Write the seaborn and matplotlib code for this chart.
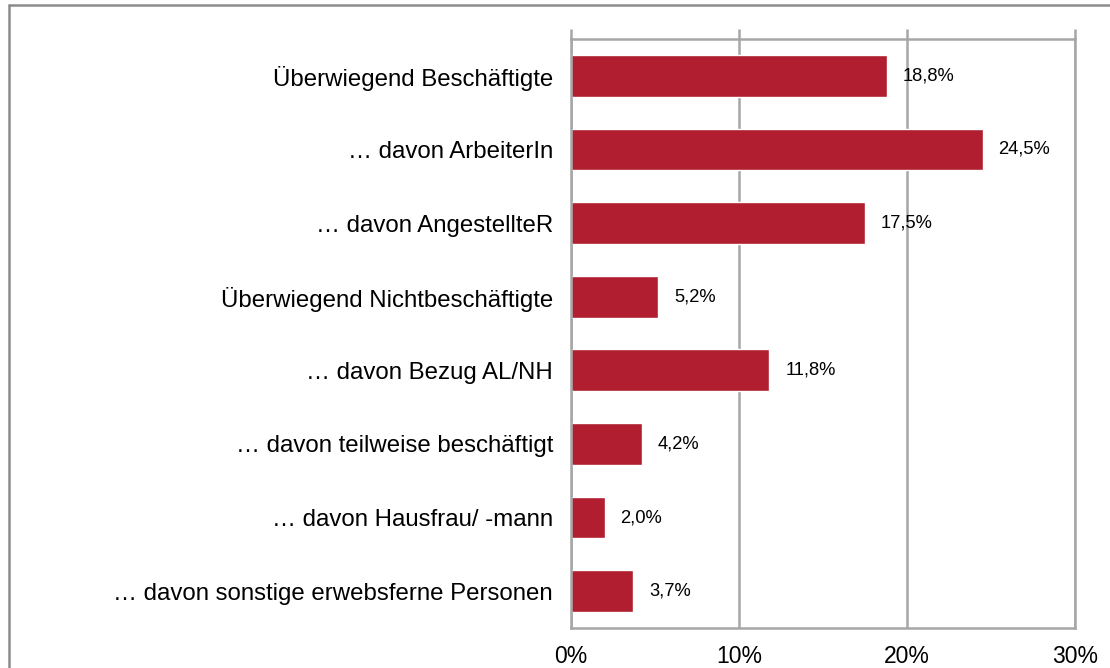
import matplotlib.pyplot as plt
from matplotlib.lines import Line2D
import seaborn as sns
import numpy as np

categories = ['Überwiegend Beschäftigte', '… davon ArbeiterIn', '… davon AngestellteR',
              'Überwiegend Nichtbeschäftigte', '… davon Bezug AL/NH',
              '… davon teilweise beschäftigt', '… davon Hausfrau/ -mann',
              '… davon sonstige erwebsferne Personen']
values = [18.8, 24.5, 17.5, 5.2, 11.8, 4.2, 2.0, 3.7]
labels = ['18,8%', '24,5%', '17,5%', '5,2%', '11,8%', '4,2%', '2,0%', '3,7%']
xticks = [0, 10, 20, 30]

sns.set_style('white')
plt.rcParams['font.family'] = ['Liberation Sans', 'DejaVu Sans']
plt.rcParams['text.color'] = 'black'
grey = '#a6a6a6'

fig = plt.figure(figsize=(11.1, 6.68), dpi=100)
ax = fig.add_axes([0.5144, 0.0599, 0.4541, 0.8817])

sns.barplot(x=values, y=categories, orient='h', color='#b01e2f', width=0.567,
            saturation=1, ax=ax, zorder=3)

ax.set_xlim(0, 30)
ax.set_ylim(7.5, -0.5)
ax.set_xticks(xticks)
ax.set_xticklabels(['{}%'.format(t) for t in xticks], fontsize=16.5, color='black')
ax.grid(axis='x', color=grey, linewidth=1.8, zorder=0)
ax.set_xlabel('')
ax.set_ylabel('')
for s in ax.spines.values():
    s.set_color(grey)
    s.set_linewidth(1.8)
ax.spines['left'].set_zorder(4)

# tick marks between categories on the left, small marks above at the top
ax.set_yticks(np.arange(-0.5, 8, 1), minor=True)
ax.tick_params(axis='y', which='major', length=0, labelsize=17.3, pad=13,
               labelcolor='black')
ax.tick_params(axis='y', which='minor', length=8, width=1.8, color=grey, direction='out')
ax.tick_params(axis='x', which='major', bottom=False, top=True, length=7, width=1.8,
               color=grey, direction='out', labelbottom=True, pad=5)

for i, (v, lab) in enumerate(zip(values, labels)):
    ax.annotate(lab, (v, i), xytext=(11.5, 0), textcoords='offset points',
                va='center', ha='left', fontsize=13.2, color='black')

# outer chart frame (only left and top edges are visible)
fig.add_artist(Line2D([9 / 1110, 9 / 1110], [0, 1 - 5 / 668], color='#8c8c8c',
                      linewidth=1.8, transform=fig.transFigure))
fig.add_artist(Line2D([9 / 1110, 1], [1 - 5 / 668, 1 - 5 / 668], color='#8c8c8c',
                      linewidth=1.8, transform=fig.transFigure))

plt.savefig('out.png', dpi=100)
